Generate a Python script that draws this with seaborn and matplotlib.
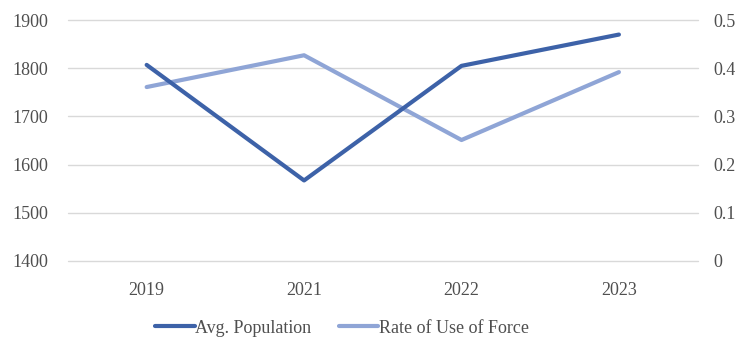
import matplotlib
matplotlib.use("Agg")
import matplotlib.pyplot as plt
import seaborn as sns
import pandas as pd

years = ["2019", "2021", "2022", "2023"]
avg_population = [1807, 1567, 1805, 1870]
rate_use_of_force = [0.361, 0.427, 0.251, 0.392]

left_ticks = [1400, 1500, 1600, 1700, 1800, 1900]
right_ticks = [0, 0.1, 0.2, 0.3, 0.4, 0.5]
right_tick_labels = ["0", "0.1", "0.2", "0.3", "0.4", "0.5"]

dark_blue = "#3D62A8"
light_blue = "#8FA5D6"
grid_gray = "#D9D9D9"
text_gray = "#4F4F4F"

sns.set_theme(style="white")
plt.rcParams["font.family"] = ["Liberation Serif", "DejaVu Serif"]

df = pd.DataFrame({"Year": years, "Avg. Population": avg_population,
                   "Rate of Use of Force": rate_use_of_force})

fig = plt.figure(figsize=(7.55, 3.41), dpi=100)
ax = fig.add_axes([0.09, 0.235, 0.834, 0.706])
ax2 = ax.twinx()

sns.lineplot(data=df, x="Year", y="Avg. Population", ax=ax, color=dark_blue,
             linewidth=3.0, sort=False, label="Avg. Population", legend=False)
sns.lineplot(data=df, x="Year", y="Rate of Use of Force", ax=ax2, color=light_blue,
             linewidth=3.0, sort=False, label="Rate of Use of Force", legend=False)
ax.set_zorder(ax2.get_zorder() + 1)
ax.patch.set_visible(False)

ax.set_ylim(1400, 1900)
ax2.set_ylim(0, 0.5)
ax.set_xlim(-0.5, 3.5)
ax.set_yticks(left_ticks)
ax.set_yticklabels([str(t) for t in left_ticks])
ax2.set_yticks(right_ticks)
ax2.set_yticklabels(right_tick_labels)

ax2.grid(False)
ax.grid(False)
for t in left_ticks:
    ax2.axhline((t - 1400) / 1000, color=grid_gray, linewidth=1.0, zorder=0,
                clip_on=False)

for a in (ax, ax2):
    for s in a.spines.values():
        s.set_visible(False)
    a.set_xlabel("")
    a.set_ylabel("")
    a.tick_params(axis="both", length=0, labelsize=13, colors=text_gray)
ax.tick_params(axis="x", pad=15)
ax.tick_params(axis="y", pad=14)
ax2.tick_params(axis="y", pad=11)

h1, l1 = ax.get_legend_handles_labels()
h2, l2 = ax2.get_legend_handles_labels()
fig.legend(h1 + h2, l1 + l2, loc="lower center", bbox_to_anchor=(0.453, -0.035),
           ncol=2, frameon=False, fontsize=13, handlelength=2.2,
           handletextpad=0.05, columnspacing=1.5, labelcolor=text_gray)

fig.savefig("out.png", dpi=100)
